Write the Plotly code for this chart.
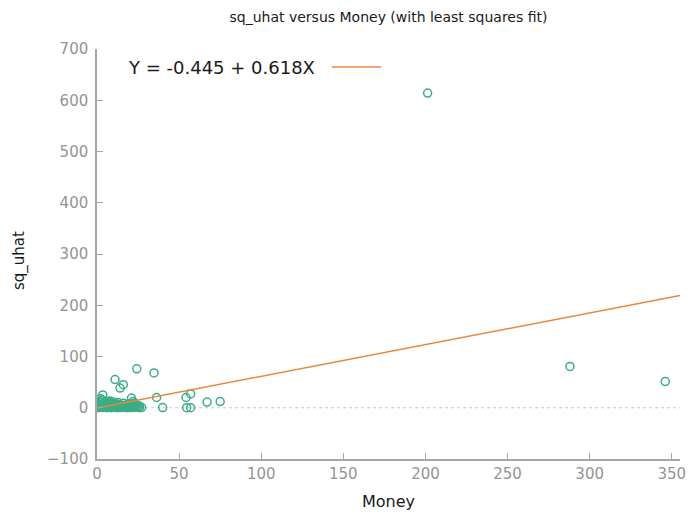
import plotly.graph_objects as go

# Data
money = [201.3, 288, 346,
         24.2, 34.7, 11, 16, 14, 3.5, 21, 36.3, 40, 57, 54.2, 54.6, 57, 67, 75, 27.2, 24,
         22, 20, 18, 2, 5, 7, 9, 10, 12, 13, 15, 17, 19, 21, 23, 25, 26,
         1, 0.5, 1.5, 2.5, 3, 4, 4.5, 5.5, 6, 6.5, 7.5, 8, 8.5, 9.5, 10.5, 11.5,
         12.5, 13.5, 14.5, 15.5, 16.5, 17.5, 18.5, 19.5, 20.5, 21.5, 22.5, 23.5,
         0.2, 1, 3, 6, 8, 2, 16, 18.5, 11, 4,
         1.2, 2.8, 4.8, 6.8, 8.8, 10.8, 12.8, 14.8, 16.8, 19.8, 22.8, 25.5,
         3.8, 5.2, 7.2, 9.2, 13.2, 17.2, 21.2, 0.8]
sq_uhat = [614, 80.6, 51,
           76, 68, 55, 45, 38.5, 25, 19, 20, 0.3, 27, 20, 0.2, 0.1, 11, 12, 0.5, 1.5,
           12, 8, 5, 10, 12, 5, 8, 3, 6, 2, 4, 1, 3, 6, 2, 1, 0.2,
           1, 0.2, 3, 0.5, 2, 0.3, 4, 1, 0.1, 3, 0.8, 2, 0.2, 1.5, 0.4, 2.5,
           0.1, 1, 0.3, 2, 0.6, 3, 0.2, 1, 0.4, 2, 0.8, 4,
           5, 7, 15, 9, 13, 18, 9, 7, 10, 6,
           11, 6, 9, 12, 5, 7, 10, 5, 4, 3, 9, 4,
           14, 3, 8, 11, 6, 2, 1, 12]

intercept = -0.445
slope = 0.618
x_range = [0, 355]
y_range = [-100, 700]
fit_x = [x_range[0], x_range[1]]
fit_y = [intercept + slope * v for v in fit_x]

legend_text = "Y = -0.445 + 0.618X"
title_text = "sq_uhat versus Money (with least squares fit)"
x_title = "Money"
y_title = "sq_uhat"

green = "#3aae86"
orange = "#e8873f"
axis_gray = "#a6a6a6"
tick_gray = "#949494"
font_family = "DejaVu Sans, Verdana, sans-serif"

# page has an 8px body margin; compensate so the plot lands where the reference has it
OFF = 8
W, H = 699 - OFF, 520 - OFF
L, R, T, B = 97 - OFF, 19, 49 - OFF, 61
PX0, PX1, PY0, PY1 = 97, 680, 49, 459  # plot area in screen pixels

fig = go.Figure()
fig.add_trace(go.Scatter(x=x_range, y=[0, 0], mode="lines",
                         line=dict(color="#c8c8c8", width=1.2, dash="dot"),
                         showlegend=False, hoverinfo="skip"))
fig.add_trace(go.Scatter(x=money, y=sq_uhat, mode="markers",
                         marker=dict(symbol="circle-open", size=8, color=green,
                                     line=dict(width=1.5, color=green)),
                         showlegend=False))
fig.add_trace(go.Scatter(x=fit_x, y=fit_y, mode="lines",
                         line=dict(color=orange, width=1.5), showlegend=False))

fig.update_layout(
    width=W, height=H,
    margin=dict(l=L, r=R, t=T, b=B),
    paper_bgcolor="white", plot_bgcolor="white",
    font=dict(family=font_family, color="#333333"),
    title=dict(text=title_text, x=((PX0 + PX1) / 2 - OFF) / W, xanchor="center",
               y=1 - (17 - OFF) / H, yanchor="middle",
               font=dict(size=14, color="#1a1a1a", family=font_family)),
    xaxis=dict(range=x_range, tickmode="linear", tick0=0, dtick=50,
               showgrid=False, zeroline=False, showline=True, linecolor=axis_gray,
               linewidth=1.5, ticks="inside", ticklen=6, tickcolor=axis_gray,
               tickfont=dict(size=15, color=tick_gray),
               title=dict(text=x_title, font=dict(size=16, color="#1a1a1a"), standoff=14)),
    yaxis=dict(range=y_range, tickmode="linear", tick0=-100, dtick=100,
               showgrid=False, zeroline=False, showline=True, linecolor=axis_gray,
               linewidth=1.5, ticks="inside", ticklen=6, tickcolor=axis_gray,
               ticklabelstandoff=4,
               tickfont=dict(size=15, color=tick_gray)),
)

# y-axis label, placed like the reference (slightly below the plot centre)
fig.add_annotation(xref="paper", yref="paper",
                   x=-(97 - 19) / (PX1 - PX0), y=(PY1 - 261) / (PY1 - PY0),
                   xanchor="center", yanchor="middle", showarrow=False, textangle=-90,
                   text=y_title, font=dict(size=15, color="#1a1a1a", family=font_family))

ky = (PY1 - 67) / (PY1 - PY0)
fig.add_annotation(xref="paper", yref="paper",
                   x=(126 - PX0) / (PX1 - PX0), y=ky,
                   xanchor="left", yanchor="middle", showarrow=False,
                   text=legend_text, font=dict(size=18, color="#1a1a1a", family=font_family))
fig.add_shape(type="line", xref="paper", yref="paper",
              x0=(332 - PX0) / (PX1 - PX0), x1=(381 - PX0) / (PX1 - PX0),
              y0=ky, y1=ky, line=dict(color=orange, width=1.5))

fig.write_html("out.html")
